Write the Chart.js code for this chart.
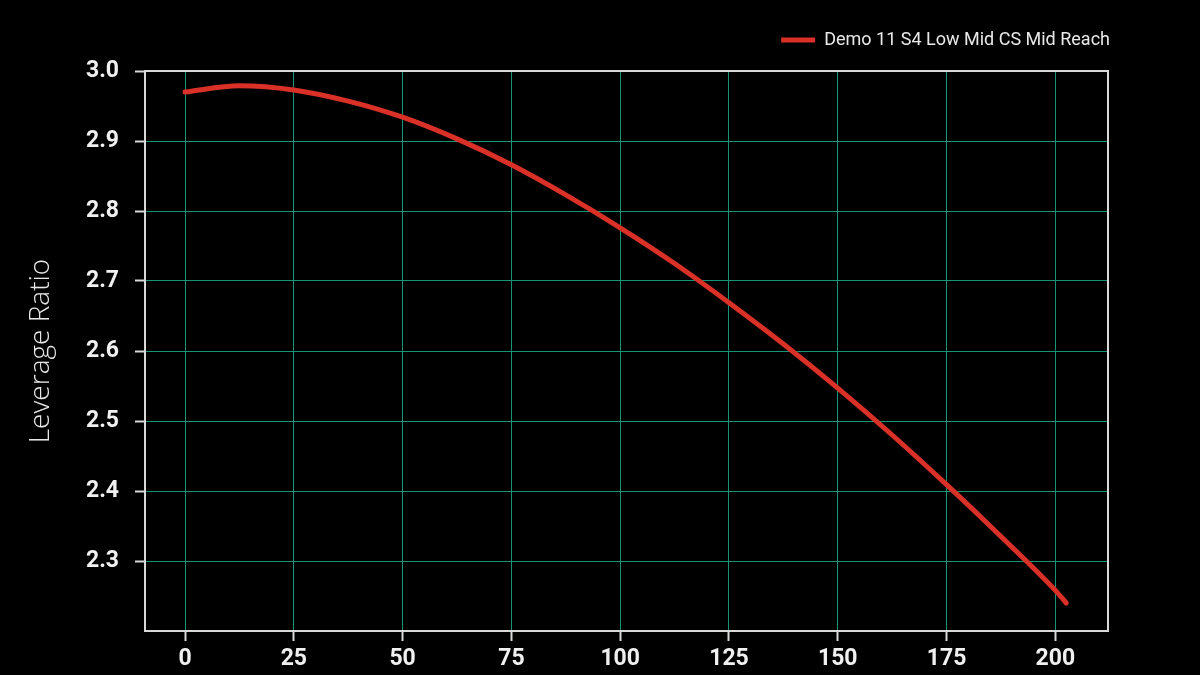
<!DOCTYPE html>
<html lang="en">
<head>
    <meta charset="UTF-8">
    <title>Leverage Ratio</title>
    <script src="https://cdn.jsdelivr.net/npm/chart.js"></script>
    <style>
        html, body { margin: 0; padding: 0; background: #000; }
        #wrap { width: 1200px; height: 675px; }
    </style>
</head>
<body>
    <div id="wrap"><canvas id="chart" width="1200" height="675"></canvas></div>
    <script>
        // Data
        const seriesName = 'Demo 11 S4 Low Mid CS Mid Reach';
        const travel = [0, 12.5, 25, 37.5, 50, 62.5, 75, 87.5, 100, 112.5, 125, 137.5, 150, 162.5, 175, 187.5, 200, 202.5];
        const leverage = [2.970, 2.979, 2.973, 2.957, 2.934, 2.903, 2.866, 2.823, 2.776, 2.725, 2.669, 2.610, 2.547, 2.480, 2.409, 2.335, 2.258, 2.240];
        const xTicks = [0, 25, 50, 75, 100, 125, 150, 175, 200];
        const yTicks = [2.3, 2.4, 2.5, 2.6, 2.7, 2.8, 2.9, 3.0];

        const gridTeal = '#169478';
        const frame = '#d8d8d8';

        // full box around the plot, and nudge legend to the top right corner
        const boxPlugin = {
            id: 'box',
            afterLayout(chart) {
                const lg = chart.legend;
                if (lg) {
                    lg.left += 35; lg.right += 35;
                    lg.top -= 12; lg.bottom -= 12;
                }
            },
            afterDatasetsDraw(chart) {
                const a = chart.chartArea, ctx = chart.ctx;
                ctx.save();
                ctx.strokeStyle = frame;
                ctx.lineWidth = 2;
                ctx.strokeRect(a.left, a.top, a.right - a.left, a.bottom - a.top);
                ctx.restore();
            }
        };

        new Chart(document.getElementById('chart'), {
            type: 'line',
            data: {
                datasets: [{
                    label: seriesName,
                    data: travel.map((x, i) => ({ x: x, y: leverage[i] })),
                    borderColor: '#d93127',
                    backgroundColor: '#d93127',
                    borderWidth: 5,
                    borderCapStyle: 'round',
                    pointRadius: 0,
                    cubicInterpolationMode: 'monotone'
                }]
            },
            options: {
                responsive: false,
                animation: false,
                layout: { padding: { left: 0, right: 92, top: 10, bottom: 0 } },
                plugins: {
                    legend: {
                        position: 'top',
                        align: 'end',
                        labels: {
                            color: '#e8e8e8',
                            font: { family: 'Roboto', size: 18 },
                            usePointStyle: true,
                            pointStyle: 'line',
                            pointStyleWidth: 34,
                            boxHeight: 10,
                            padding: 33
                        }
                    },
                    tooltip: { enabled: false }
                },
                scales: {
                    x: {
                        type: 'linear',
                        min: -9.2,
                        max: 212.1,
                        afterBuildTicks: s => { s.ticks = xTicks.map(v => ({ value: v })); },
                        afterFit: s => { s.height = 44; },
                        grid: { color: gridTeal, lineWidth: 1, tickLength: 10, tickColor: frame, tickWidth: 2 },
                        border: { color: frame, width: 2 },
                        ticks: { color: '#f0f0f0', font: { family: 'Roboto', size: 23, weight: 'bold' }, padding: 4 }
                    },
                    y: {
                        min: 2.2,
                        max: 3.0,
                        afterBuildTicks: s => { s.ticks = yTicks.map(v => ({ value: v })); },
                        afterFit: s => { s.width = 145; },
                        grid: { color: gridTeal, lineWidth: 1, tickLength: 10, tickColor: frame, tickWidth: 2 },
                        border: { color: frame, width: 2 },
                        title: {
                            display: true,
                            text: 'Leverage Ratio',
                            color: '#e8e8e8',
                            font: { family: 'Open Sans', size: 28, weight: '300' },
                            padding: { top: 24, bottom: 0 }
                        },
                        ticks: {
                            color: '#f0f0f0',
                            font: { family: 'Roboto', size: 23, weight: 'bold' },
                            padding: 16,
                            callback: v => v.toFixed(1)
                        }
                    }
                }
            },
            plugins: [boxPlugin]
        });
    </script>
</body>
</html>
